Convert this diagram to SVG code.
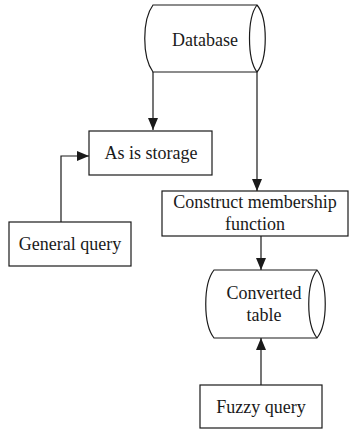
<svg xmlns="http://www.w3.org/2000/svg" width="349" height="431" viewBox="0 0 349 431">
  <style>
    .shape { fill: #ffffff; stroke: #1a1a1a; stroke-width: 1.2; }
    .edge { fill: none; stroke: #1a1a1a; stroke-width: 1.2; }
    .label { font-family: "Liberation Serif", "Times New Roman", serif; font-size: 18px; fill: #1a1a1a; text-anchor: middle; }
  </style>
  <defs>
    <marker id="arrow" viewBox="0 0 12 10" refX="12" refY="5" markerWidth="12" markerHeight="10" markerUnits="userSpaceOnUse" orient="auto">
      <path d="M0,0 L12,5 L0,10 Z" fill="#1a1a1a"/>
    </marker>
  </defs>

  <g id="connectors">
    <!-- Database to As is storage -->
    <path class="edge" d="M153,72 L153,130" marker-end="url(#arrow)"/>
    <!-- Database to Construct membership function -->
    <path class="edge" d="M257,72 L257,191" marker-end="url(#arrow)"/>
    <!-- General query to As is storage -->
    <path class="edge" d="M61,222 L61,156 L89,156" marker-end="url(#arrow)"/>
    <!-- Construct membership function to Converted table -->
    <path class="edge" d="M261,236 L261,270" marker-end="url(#arrow)"/>
    <!-- Fuzzy query to Converted table -->
    <path class="edge" d="M261,385 L261,338" marker-end="url(#arrow)"/>
  </g>

  <g id="database">
    <path class="shape" d="M153,5 L257,5 C268,18 268,59 257,72 L153,72 C142,57 142,20 153,5 Z"/>
    <path class="edge" d="M257,5 C247,18 247,59 257,72"/>
    <text class="label" x="205" y="46">Database</text>
  </g>

  <g id="as-is-storage">
    <rect class="shape" x="89" y="131" width="123" height="44"/>
    <text class="label" x="151" y="159">As is storage</text>
  </g>

  <g id="general-query">
    <rect class="shape" x="9" y="222" width="122" height="44"/>
    <text class="label" x="70" y="250">General query</text>
  </g>

  <g id="construct-membership-function">
    <rect class="shape" x="162" y="191" width="186" height="45"/>
    <text class="label" x="255" y="208">Construct membership</text>
    <text class="label" x="255" y="230">function</text>
  </g>

  <g id="converted-table">
    <path class="shape" d="M214,270 L317,270 C328,284 328,324 317,338 L214,338 C203,324 203,284 214,270 Z"/>
    <path class="edge" d="M317,270 C306,284 306,324 317,338"/>
    <text class="label" x="264" y="299">Converted</text>
    <text class="label" x="264" y="321">table</text>
  </g>

  <g id="fuzzy-query">
    <rect class="shape" x="200" y="385" width="122" height="43"/>
    <text class="label" x="261" y="413">Fuzzy query</text>
  </g>
</svg>
